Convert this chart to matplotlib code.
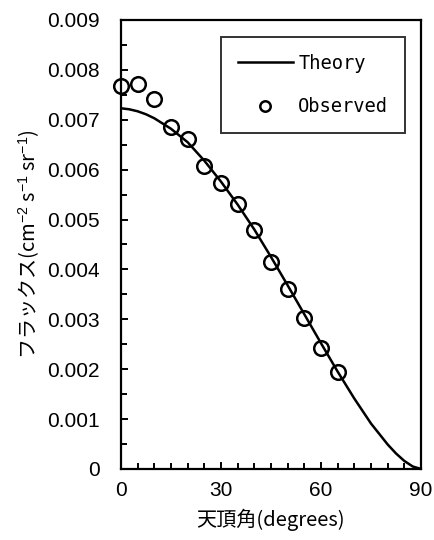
import matplotlib
matplotlib.use("Agg")
import matplotlib.pyplot as plt
from matplotlib.ticker import MultipleLocator, FuncFormatter

# observed flux at each zenith angle
obs_angle = [0, 5, 10, 15, 20, 25, 30, 35, 40, 45, 50, 55, 60, 65]
obs_flux = [0.00768, 0.00771, 0.00741, 0.00685, 0.00661, 0.00607, 0.00573,
            0.00531, 0.00480, 0.00415, 0.00360, 0.00302, 0.00243, 0.00194]

# theory curve
th_angle = [0, 2.5, 5, 7.5, 10, 15, 20, 25, 30, 35, 40, 45, 50, 55, 60, 65, 70,
            75, 80, 82.5, 85, 87.5, 90]
th_flux = [0.00723, 0.00721, 0.00717, 0.00711, 0.00703, 0.00682, 0.00655,
           0.00618, 0.00576, 0.00530, 0.00480, 0.00425, 0.00368, 0.00310,
           0.00252, 0.00195, 0.00141, 0.00091, 0.00049, 0.00031, 0.00016,
           0.00005, 0.0]

plt.rcParams['font.family'] = ['Liberation Sans', 'Noto Sans CJK JP']
plt.rcParams['mathtext.fontset'] = 'custom'
plt.rcParams['mathtext.rm'] = 'Liberation Sans'
plt.rcParams['mathtext.it'] = 'Liberation Sans'

fig = plt.figure(figsize=(4.35, 5.4), dpi=100)
ax = fig.add_axes([0.278, 0.1315, 0.69, 0.8315])

ax.plot(th_angle, th_flux, color='black', lw=1.8, label='Theory', zorder=2)
ax.plot(obs_angle, obs_flux, ls='none', marker='o', ms=10.5, mfc='none',
        mec='black', mew=1.8, label='Observed', zorder=3, clip_on=False)

ax.set_xlim(0, 90)
ax.set_ylim(0, 0.009)
ax.xaxis.set_major_locator(MultipleLocator(30))
ax.xaxis.set_minor_locator(MultipleLocator(5))
ax.yaxis.set_major_locator(MultipleLocator(0.001))
ax.yaxis.set_minor_locator(MultipleLocator(0.0005))
ax.yaxis.set_major_formatter(FuncFormatter(lambda v, p: '0' if abs(v) < 1e-9 else '%.3f' % v))

for s in ax.spines.values():
    s.set_linewidth(1.6)
ax.tick_params(which='both', direction='in', width=1.4, labelsize=15, colors='black')
ax.tick_params(which='major', length=5, pad=9)
ax.tick_params(axis='y', which='major', pad=15)
ax.tick_params(which='minor', length=4)

ax.set_xlabel('天頂角(degrees)', fontsize=14.5, family=['Noto Sans CJK JP'], labelpad=6)
ax.set_ylabel('フラックス(cm$^{-2}$ s$^{-1}$ sr$^{-1}$)', fontsize=14.5,
              family=['Noto Sans CJK JP'], labelpad=4)

leg = ax.legend(loc='upper right', bbox_to_anchor=(0.947, 0.962), frameon=True,
                fancybox=False, edgecolor='black', borderpad=0.9, handlelength=2.9,
                handletextpad=0.3, labelspacing=1.3, borderaxespad=0,
                prop={'family': 'DejaVu Sans Mono', 'size': 13.5})
leg.get_frame().set_linewidth(1.4)
leg.legend_handles[1].set_markersize(7.5)

fig.savefig('out.png', dpi=100)
